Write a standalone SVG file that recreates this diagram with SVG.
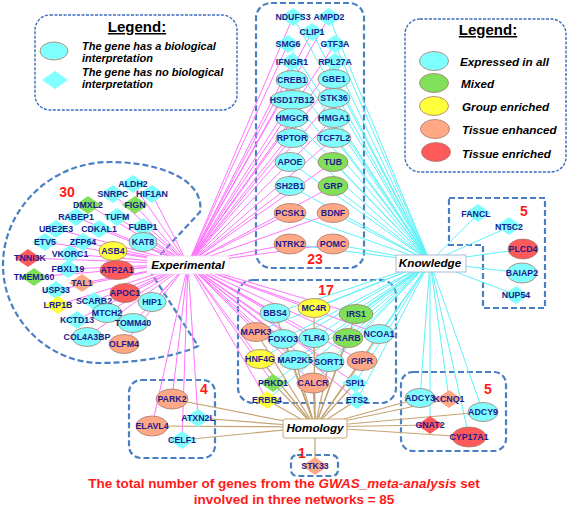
<svg xmlns="http://www.w3.org/2000/svg" width="568" height="509" viewBox="0 0 568 509">
<defs>
<style>
.box{fill:none;stroke:#4a7fc4;stroke-width:2.2;stroke-dasharray:6 3}
.leg{fill:#fff;stroke:#3a6cc0;stroke-width:1.4;stroke-dasharray:3 1.5}
.ce{fill:#80ffff}.gr{fill:#80e05a}.ye{fill:#ffff3c}.or{fill:#ffa886}.re{fill:#ff5a5a}
.el{stroke:#a5786a;stroke-width:0.8}
.gt{font-family:"Liberation Sans",Arial,sans-serif;font-weight:bold;font-size:8.8px;fill:#1c1c8c;text-anchor:middle}
.lt{font-family:"Liberation Sans",Arial,sans-serif;font-weight:bold;font-style:italic;font-size:11.7px;fill:#000}
.lt2{font-family:"Liberation Sans",Arial,sans-serif;font-weight:bold;font-style:italic;font-size:11px;fill:#000}
.ttl{font-family:"Liberation Sans",Arial,sans-serif;font-weight:bold;font-size:15px;fill:#000;text-anchor:middle;text-decoration:underline}
.ht{font-family:"Liberation Sans",Arial,sans-serif;font-weight:bold;font-style:italic;font-size:11.7px;fill:#000;text-anchor:middle}
.num{font-family:"Liberation Sans",Arial,sans-serif;font-weight:bold;font-size:14px;fill:#ff1a1a;text-anchor:middle}
.bt{font-family:"Liberation Sans",Arial,sans-serif;font-weight:bold;font-size:13.5px;fill:#ff1a1a;text-anchor:middle}
.ep line{stroke:#ff74ff;stroke-width:1}
.ek line{stroke:#5cf2f7;stroke-width:1}
.eh line{stroke:#c4a474;stroke-width:1.2}
</style>
<path id="dm" d="M-13,0L0,-9L13,0L0,9Z"/>
</defs>
<rect width="568" height="509" fill="#fff"/>

<g id="legend1">
<rect x="35" y="15" width="202" height="95" rx="15" class="leg"/>
<text x="137" y="32" class="ttl">Legend:</text>
<ellipse cx="54" cy="51" rx="14" ry="9" class="ce el"/>
<use href="#dm" x="55" y="80" class="ce"/>
<text x="82" y="49.5" class="lt2">The gene has a biological</text>
<text x="82" y="62.2" class="lt2">interpretation</text>
<text x="82" y="75.5" class="lt2">The gene has no biological</text>
<text x="82" y="88.2" class="lt2">interpretation</text>
</g>

<g id="legend2">
<rect x="405" y="19" width="161" height="153" rx="15" class="leg"/>
<text x="488" y="35" class="ttl">Legend:</text>
<ellipse cx="434" cy="61" rx="14.5" ry="9.5" class="ce el"/>
<ellipse cx="434" cy="83" rx="14.5" ry="9.5" class="gr el"/>
<ellipse cx="434" cy="106" rx="14.5" ry="9.5" class="ye el"/>
<ellipse cx="435" cy="129" rx="14.5" ry="9.5" class="or el"/>
<ellipse cx="436" cy="152" rx="14.5" ry="9.5" class="re el"/>
<text x="460" y="66" class="lt">Expressed in all</text>
<text x="461" y="88" class="lt">Mixed</text>
<text x="462" y="111" class="lt">Group enriched</text>
<text x="462" y="134" class="lt">Tissue enhanced</text>
<text x="462" y="158" class="lt">Tissue enriched</text>
</g>

<g id="groups">
<path class="box" d="M148,268 L200,212 C205,180 160,162 110,162 C50,162 3,210 3,265 C3,320 50,363 100,363 C140,363 180,355 198,346 Z"/>
<rect x="256" y="3" width="108" height="265" rx="15" class="box"/>
<rect x="238" y="280" width="158" height="123" rx="15" class="box"/>
<path class="box" d="M449,198 L545,198 L545,308 L483,308 L483,245 L449,245 Z"/>
<rect x="129" y="380" width="86" height="78" rx="12" class="box"/>
<rect x="401" y="372" width="105" height="79" rx="12" class="box"/>
<rect x="291" y="455" width="47" height="21" rx="6" class="box"/>
<text x="67" y="197" class="num">30</text>
<text x="315" y="264" class="num">23</text>
<text x="326" y="295" class="num">17</text>
<text x="524" y="216" class="num">5</text>
<text x="204" y="394" class="num">4</text>
<text x="488" y="394" class="num">5</text>
<text x="302" y="458" class="num">1</text>
</g>

<g id="connectors">
<g class="ep">
<line x1="188" y1="264" x2="133" y2="184"/><line x1="188" y1="264" x2="113" y2="194"/><line x1="188" y1="264" x2="152" y2="194"/>
<line x1="188" y1="264" x2="88" y2="205"/><line x1="188" y1="264" x2="135" y2="205"/><line x1="188" y1="264" x2="76" y2="217"/>
<line x1="188" y1="264" x2="117" y2="217"/><line x1="188" y1="264" x2="56" y2="229"/><line x1="188" y1="264" x2="99" y2="229"/>
<line x1="188" y1="264" x2="143" y2="227"/><line x1="188" y1="264" x2="45" y2="242"/><line x1="188" y1="264" x2="83" y2="242"/>
<line x1="188" y1="264" x2="143" y2="242"/><line x1="188" y1="264" x2="28" y2="258"/><line x1="188" y1="264" x2="70" y2="254"/>
<line x1="188" y1="264" x2="113" y2="251"/><line x1="188" y1="264" x2="68" y2="269"/><line x1="188" y1="264" x2="117" y2="270"/>
<line x1="188" y1="264" x2="34" y2="277"/><line x1="188" y1="264" x2="82" y2="283"/><line x1="188" y1="264" x2="56" y2="290"/>
<line x1="188" y1="264" x2="125" y2="293"/><line x1="188" y1="264" x2="58" y2="305"/><line x1="188" y1="264" x2="94" y2="301"/>
<line x1="188" y1="264" x2="152" y2="302"/><line x1="188" y1="264" x2="107" y2="313"/><line x1="188" y1="264" x2="77" y2="320"/>
<line x1="188" y1="264" x2="133" y2="323"/><line x1="188" y1="264" x2="87" y2="337"/><line x1="188" y1="264" x2="124" y2="344"/>
<line x1="188" y1="264" x2="293" y2="17"/><line x1="188" y1="264" x2="329" y2="17"/><line x1="188" y1="264" x2="312" y2="32"/>
<line x1="188" y1="264" x2="288" y2="44"/><line x1="188" y1="264" x2="335" y2="44"/><line x1="188" y1="264" x2="292" y2="62"/>
<line x1="188" y1="264" x2="335" y2="62"/><line x1="188" y1="264" x2="292" y2="80"/><line x1="188" y1="264" x2="334" y2="79"/>
<line x1="188" y1="264" x2="292" y2="100"/><line x1="188" y1="264" x2="334" y2="98"/><line x1="188" y1="264" x2="292" y2="118"/>
<line x1="188" y1="264" x2="334" y2="118"/><line x1="188" y1="264" x2="292" y2="138"/><line x1="188" y1="264" x2="334" y2="138"/>
<line x1="188" y1="264" x2="290" y2="162"/><line x1="188" y1="264" x2="333" y2="162"/><line x1="188" y1="264" x2="290" y2="186"/>
<line x1="188" y1="264" x2="333" y2="186"/><line x1="188" y1="264" x2="290" y2="213"/><line x1="188" y1="264" x2="333" y2="213"/>
<line x1="188" y1="264" x2="290" y2="244"/><line x1="188" y1="264" x2="333" y2="244"/>
<line x1="188" y1="264" x2="275" y2="313"/><line x1="188" y1="264" x2="314" y2="308"/><line x1="188" y1="264" x2="356" y2="314"/>
<line x1="188" y1="264" x2="256" y2="332"/><line x1="188" y1="264" x2="283" y2="339"/><line x1="188" y1="264" x2="314" y2="338"/>
<line x1="188" y1="264" x2="348" y2="338"/><line x1="188" y1="264" x2="379" y2="334"/><line x1="188" y1="264" x2="260" y2="359"/>
<line x1="188" y1="264" x2="295" y2="360"/><line x1="188" y1="264" x2="329" y2="362"/><line x1="188" y1="264" x2="362" y2="361"/>
<line x1="188" y1="264" x2="273" y2="383"/><line x1="188" y1="264" x2="313" y2="383"/><line x1="188" y1="264" x2="355" y2="383"/>
<line x1="188" y1="264" x2="267" y2="400"/><line x1="188" y1="264" x2="357" y2="400"/>
<line x1="188" y1="264" x2="172" y2="399"/><line x1="188" y1="264" x2="198" y2="418"/><line x1="188" y1="264" x2="152" y2="426"/>
<line x1="188" y1="264" x2="182" y2="440"/>
</g>
<g class="ek">
<line x1="430" y1="262" x2="293" y2="17"/><line x1="430" y1="262" x2="329" y2="17"/><line x1="430" y1="262" x2="312" y2="32"/>
<line x1="430" y1="262" x2="288" y2="44"/><line x1="430" y1="262" x2="335" y2="44"/><line x1="430" y1="262" x2="292" y2="62"/>
<line x1="430" y1="262" x2="335" y2="62"/><line x1="430" y1="262" x2="292" y2="80"/><line x1="430" y1="262" x2="334" y2="79"/>
<line x1="430" y1="262" x2="292" y2="100"/><line x1="430" y1="262" x2="334" y2="98"/><line x1="430" y1="262" x2="292" y2="118"/>
<line x1="430" y1="262" x2="334" y2="118"/><line x1="430" y1="262" x2="292" y2="138"/><line x1="430" y1="262" x2="334" y2="138"/>
<line x1="430" y1="262" x2="290" y2="162"/><line x1="430" y1="262" x2="333" y2="162"/><line x1="430" y1="262" x2="290" y2="186"/>
<line x1="430" y1="262" x2="333" y2="186"/><line x1="430" y1="262" x2="290" y2="213"/><line x1="430" y1="262" x2="333" y2="213"/>
<line x1="430" y1="262" x2="290" y2="244"/><line x1="430" y1="262" x2="333" y2="244"/>
<line x1="430" y1="262" x2="275" y2="313"/><line x1="430" y1="262" x2="314" y2="308"/><line x1="430" y1="262" x2="356" y2="314"/>
<line x1="430" y1="262" x2="256" y2="332"/><line x1="430" y1="262" x2="283" y2="339"/><line x1="430" y1="262" x2="314" y2="338"/>
<line x1="430" y1="262" x2="348" y2="338"/><line x1="430" y1="262" x2="379" y2="334"/><line x1="430" y1="262" x2="260" y2="359"/>
<line x1="430" y1="262" x2="295" y2="360"/><line x1="430" y1="262" x2="329" y2="362"/><line x1="430" y1="262" x2="362" y2="361"/>
<line x1="430" y1="262" x2="273" y2="383"/><line x1="430" y1="262" x2="313" y2="383"/><line x1="430" y1="262" x2="355" y2="383"/>
<line x1="430" y1="262" x2="267" y2="400"/><line x1="430" y1="262" x2="357" y2="400"/>
<line x1="430" y1="262" x2="478" y2="214"/><line x1="430" y1="262" x2="509" y2="227"/><line x1="430" y1="262" x2="523" y2="249"/>
<line x1="430" y1="262" x2="522" y2="273"/><line x1="430" y1="262" x2="516" y2="295"/>
<line x1="430" y1="262" x2="420" y2="398"/><line x1="430" y1="262" x2="449" y2="399"/><line x1="430" y1="262" x2="483" y2="412"/>
<line x1="430" y1="262" x2="430" y2="425"/><line x1="430" y1="262" x2="469" y2="437"/>
</g>
<g class="eh">
<line x1="315" y1="427" x2="275" y2="313"/><line x1="315" y1="427" x2="314" y2="308"/><line x1="315" y1="427" x2="356" y2="314"/>
<line x1="315" y1="427" x2="256" y2="332"/><line x1="315" y1="427" x2="283" y2="339"/><line x1="315" y1="427" x2="314" y2="338"/>
<line x1="315" y1="427" x2="348" y2="338"/><line x1="315" y1="427" x2="379" y2="334"/><line x1="315" y1="427" x2="260" y2="359"/>
<line x1="315" y1="427" x2="295" y2="360"/><line x1="315" y1="427" x2="329" y2="362"/><line x1="315" y1="427" x2="362" y2="361"/>
<line x1="315" y1="427" x2="273" y2="383"/><line x1="315" y1="427" x2="313" y2="383"/><line x1="315" y1="427" x2="355" y2="383"/>
<line x1="315" y1="427" x2="267" y2="400"/><line x1="315" y1="427" x2="357" y2="400"/>
<line x1="315" y1="427" x2="172" y2="399"/><line x1="315" y1="427" x2="198" y2="418"/><line x1="315" y1="427" x2="152" y2="426"/>
<line x1="315" y1="427" x2="182" y2="440"/>
<line x1="315" y1="427" x2="420" y2="398"/><line x1="315" y1="427" x2="449" y2="399"/><line x1="315" y1="427" x2="483" y2="412"/>
<line x1="315" y1="427" x2="430" y2="425"/><line x1="315" y1="427" x2="469" y2="437"/>
<line x1="315" y1="427" x2="315" y2="466"/>
</g>
</g>

<g id="nodes">
<g id="n-NDUFS3"><use href="#dm" x="293" y="17" class="ce"/><text x="293" y="20" class="gt">NDUFS3</text></g>
<g id="n-AMPD2"><use href="#dm" x="329" y="17" class="ce"/><text x="329" y="20" class="gt">AMPD2</text></g>
<g id="n-CLIP1"><use href="#dm" x="312" y="32" class="ce"/><text x="312" y="35" class="gt">CLIP1</text></g>
<g id="n-SMG6"><use href="#dm" x="288" y="44" class="ce"/><text x="288" y="47" class="gt">SMG6</text></g>
<g id="n-GTF3A"><use href="#dm" x="335" y="44" class="ce"/><text x="335" y="47" class="gt">GTF3A</text></g>
<g id="n-IFNGR1"><use href="#dm" x="292" y="62" class="ce"/><text x="292" y="65" class="gt">IFNGR1</text></g>
<g id="n-RPL27A"><use href="#dm" x="335" y="62" class="ce"/><text x="335" y="65" class="gt">RPL27A</text></g>
<g id="n-CREB1"><ellipse cx="292" cy="80" rx="16" ry="9.5" class="ce el"/><text x="292" y="83" class="gt">CREB1</text></g>
<g id="n-GBE1"><ellipse cx="334" cy="79" rx="16" ry="9.5" class="ce el"/><text x="334" y="82" class="gt">GBE1</text></g>
<g id="n-HSD17B12"><ellipse cx="292" cy="100" rx="22" ry="9.5" class="ce el"/><text x="292" y="103" class="gt">HSD17B12</text></g>
<g id="n-STK36"><ellipse cx="334" cy="98" rx="16" ry="9.5" class="ce el"/><text x="334" y="101" class="gt">STK36</text></g>
<g id="n-HMGCR"><ellipse cx="292" cy="118" rx="16" ry="9.5" class="ce el"/><text x="292" y="121" class="gt">HMGCR</text></g>
<g id="n-HMGA1"><ellipse cx="334" cy="118" rx="16" ry="9.5" class="ce el"/><text x="334" y="121" class="gt">HMGA1</text></g>
<g id="n-RPTOR"><ellipse cx="292" cy="138" rx="16" ry="9.5" class="ce el"/><text x="292" y="141" class="gt">RPTOR</text></g>
<g id="n-TCF7L2"><ellipse cx="334" cy="138" rx="17" ry="9.5" class="ce el"/><text x="334" y="141" class="gt">TCF7L2</text></g>
<g id="n-APOE"><ellipse cx="290" cy="162" rx="15" ry="9.5" class="ce el"/><text x="290" y="165" class="gt">APOE</text></g>
<g id="n-TUB"><ellipse cx="333" cy="162" rx="15" ry="9.5" class="gr el"/><text x="333" y="165" class="gt">TUB</text></g>
<g id="n-SH2B1"><ellipse cx="290" cy="186" rx="15" ry="9.5" class="ce el"/><text x="290" y="189" class="gt">SH2B1</text></g>
<g id="n-GRP"><ellipse cx="333" cy="186" rx="15" ry="9.5" class="gr el"/><text x="333" y="189" class="gt">GRP</text></g>
<g id="n-PCSK1"><ellipse cx="290" cy="213" rx="16" ry="9.5" class="or el"/><text x="290" y="216" class="gt">PCSK1</text></g>
<g id="n-BDNF"><ellipse cx="333" cy="213" rx="16" ry="9.5" class="or el"/><text x="333" y="216" class="gt">BDNF</text></g>
<g id="n-NTRK2"><ellipse cx="290" cy="244" rx="16" ry="10" class="or el"/><text x="290" y="247" class="gt">NTRK2</text></g>
<g id="n-POMC"><ellipse cx="333" cy="244" rx="16" ry="10" class="or el"/><text x="333" y="247" class="gt">POMC</text></g>

<g id="n-ALDH2"><use href="#dm" x="133" y="184" class="ce"/><text x="133" y="187" class="gt">ALDH2</text></g>
<g id="n-SNRPC"><use href="#dm" x="113" y="194" class="ce"/><text x="113" y="197" class="gt">SNRPC</text></g>
<g id="n-HIF1AN"><use href="#dm" x="152" y="194" class="ce"/><text x="152" y="197" class="gt">HIF1AN</text></g>
<g id="n-DMXL2"><use href="#dm" x="88" y="205" class="gr"/><text x="88" y="208" class="gt">DMXL2</text></g>
<g id="n-FIGN"><use href="#dm" x="135" y="205" class="gr"/><text x="135" y="208" class="gt">FIGN</text></g>
<g id="n-RABEP1"><use href="#dm" x="76" y="217" class="ce"/><text x="76" y="220" class="gt">RABEP1</text></g>
<g id="n-TUFM"><use href="#dm" x="117" y="217" class="ce"/><text x="117" y="220" class="gt">TUFM</text></g>
<g id="n-UBE2E3"><use href="#dm" x="56" y="229" class="ce"/><text x="56" y="232" class="gt">UBE2E3</text></g>
<g id="n-CDKAL1"><use href="#dm" x="99" y="229" class="ce"/><text x="99" y="232" class="gt">CDKAL1</text></g>
<g id="n-FUBP1"><use href="#dm" x="143" y="227" class="ce"/><text x="143" y="230" class="gt">FUBP1</text></g>
<g id="n-ETV5"><use href="#dm" x="45" y="242" class="ce"/><text x="45" y="245" class="gt">ETV5</text></g>
<g id="n-ZFP64"><use href="#dm" x="83" y="242" class="ce"/><text x="83" y="245" class="gt">ZFP64</text></g>
<g id="n-KAT8"><ellipse cx="143" cy="242" rx="14" ry="9.5" class="ce el"/><text x="143" y="245" class="gt">KAT8</text></g>
<g id="n-TNNI3K"><use href="#dm" x="28" y="258" class="re"/><text x="30" y="261" class="gt">TNNI3K</text></g>
<g id="n-VKORC1"><use href="#dm" x="70" y="254" class="ce"/><text x="70" y="257" class="gt">VKORC1</text></g>
<g id="n-ASB4"><ellipse cx="113" cy="251" rx="14" ry="9.5" class="ye el"/><text x="113" y="254" class="gt">ASB4</text></g>
<g id="n-FBXL19"><use href="#dm" x="68" y="269" class="ce"/><text x="68" y="272" class="gt">FBXL19</text></g>
<g id="n-ATP2A1"><ellipse cx="117" cy="270" rx="17" ry="9.5" class="re el"/><text x="117" y="273" class="gt">ATP2A1</text></g>
<g id="n-TMEM160"><use href="#dm" x="34" y="277" class="gr"/><text x="34" y="280" class="gt">TMEM160</text></g>
<g id="n-TAL1"><use href="#dm" x="82" y="283" class="or"/><text x="82" y="286" class="gt">TAL1</text></g>
<g id="n-USP33"><use href="#dm" x="56" y="290" class="ce"/><text x="56" y="293" class="gt">USP33</text></g>
<g id="n-APOC1"><ellipse cx="125" cy="293" rx="15" ry="9.5" class="re el"/><text x="125" y="296" class="gt">APOC1</text></g>
<g id="n-LRP1B"><use href="#dm" x="58" y="305" class="ye"/><text x="58" y="308" class="gt">LRP1B</text></g>
<g id="n-SCARB2"><use href="#dm" x="94" y="301" class="ce"/><text x="94" y="304" class="gt">SCARB2</text></g>
<g id="n-HIP1"><ellipse cx="152" cy="302" rx="14" ry="9.5" class="ce el"/><text x="152" y="305" class="gt">HIP1</text></g>
<g id="n-MTCH2"><ellipse cx="107" cy="313" rx="15" ry="9.5" class="ce el"/><text x="107" y="316" class="gt">MTCH2</text></g>
<g id="n-KCTD13"><use href="#dm" x="77" y="320" class="ce"/><text x="77" y="323" class="gt">KCTD13</text></g>
<g id="n-TOMM40"><ellipse cx="133" cy="323" rx="15" ry="9.5" class="ce el"/><text x="133" y="326" class="gt">TOMM40</text></g>
<g id="n-COL4A3BP"><ellipse cx="87" cy="337" rx="15" ry="9.5" class="ce el"/><text x="87" y="340" class="gt">COL4A3BP</text></g>
<g id="n-OLFM4"><ellipse cx="124" cy="344" rx="15" ry="9.5" class="or el"/><text x="124" y="347" class="gt">OLFM4</text></g>

<g id="n-BBS4"><ellipse cx="275" cy="313" rx="15" ry="9.5" class="ce el"/><text x="275" y="316" class="gt">BBS4</text></g>
<g id="n-MC4R"><ellipse cx="314" cy="308" rx="16" ry="9.5" class="ye el"/><text x="314" y="311" class="gt">MC4R</text></g>
<g id="n-IRS1"><ellipse cx="356" cy="314" rx="17" ry="9.5" class="gr el"/><text x="356" y="317" class="gt">IRS1</text></g>
<g id="n-MAPK3"><ellipse cx="256" cy="332" rx="15" ry="9.5" class="or el"/><text x="256" y="335" class="gt">MAPK3</text></g>
<g id="n-FOXO3"><ellipse cx="283" cy="339" rx="15" ry="9.5" class="ce el"/><text x="283" y="342" class="gt">FOXO3</text></g>
<g id="n-TLR4"><ellipse cx="314" cy="338" rx="15" ry="9.5" class="ce el"/><text x="314" y="341" class="gt">TLR4</text></g>
<g id="n-RARB"><ellipse cx="348" cy="338" rx="15" ry="9.5" class="gr el"/><text x="348" y="341" class="gt">RARB</text></g>
<g id="n-NCOA1"><ellipse cx="379" cy="334" rx="15" ry="9.5" class="ce el"/><text x="379" y="337" class="gt">NCOA1</text></g>
<g id="n-HNF4G"><ellipse cx="260" cy="359" rx="15" ry="9.5" class="ye el"/><text x="260" y="362" class="gt">HNF4G</text></g>
<g id="n-MAP2K5"><ellipse cx="295" cy="360" rx="16" ry="9.5" class="ce el"/><text x="295" y="363" class="gt">MAP2K5</text></g>
<g id="n-SORT1"><ellipse cx="329" cy="362" rx="15" ry="9.5" class="ce el"/><text x="329" y="365" class="gt">SORT1</text></g>
<g id="n-GIPR"><ellipse cx="362" cy="361" rx="15" ry="9.5" class="or el"/><text x="362" y="364" class="gt">GIPR</text></g>
<g id="n-PRKD1"><use href="#dm" x="273" y="383" class="gr"/><text x="273" y="386" class="gt">PRKD1</text></g>
<g id="n-CALCR"><ellipse cx="313" cy="383" rx="16" ry="10" class="or el"/><text x="313" y="386" class="gt">CALCR</text></g>
<g id="n-SPI1"><use href="#dm" x="355" y="383" class="ce"/><text x="355" y="386" class="gt">SPI1</text></g>
<g id="n-ERBB4"><use href="#dm" x="267" y="400" class="ye"/><text x="267" y="403" class="gt">ERBB4</text></g>
<g id="n-ETS2"><use href="#dm" x="357" y="400" class="ce"/><text x="357" y="403" class="gt">ETS2</text></g>

<g id="n-FANCL"><use href="#dm" x="478" y="213" class="ce"/><text x="476" y="217" class="gt">FANCL</text></g>
<g id="n-NT5C2"><use href="#dm" x="509" y="226" class="ce"/><text x="509" y="230" class="gt">NT5C2</text></g>
<g id="n-PLCD4"><ellipse cx="523" cy="249" rx="15" ry="10" class="re el"/><text x="523" y="252" class="gt">PLCD4</text></g>
<g id="n-BAIAP2"><ellipse cx="522" cy="273" rx="15" ry="10" class="ce el"/><text x="522" y="276" class="gt">BAIAP2</text></g>
<g id="n-NUP54"><use href="#dm" x="516" y="295" class="ce"/><text x="516" y="298" class="gt">NUP54</text></g>

<g id="n-PARK2"><ellipse cx="172" cy="399" rx="16" ry="10" class="or el"/><text x="172" y="402" class="gt">PARK2</text></g>
<g id="n-ATXN2L"><use href="#dm" x="198" y="418" class="ce"/><text x="198" y="421" class="gt">ATXN2L</text></g>
<g id="n-ELAVL4"><ellipse cx="152" cy="426" rx="16" ry="10" class="or el"/><text x="152" y="429" class="gt">ELAVL4</text></g>
<g id="n-CELF1"><use href="#dm" x="182" y="440" class="ce"/><text x="182" y="443" class="gt">CELF1</text></g>

<g id="n-ADCY3"><ellipse cx="420" cy="398" rx="15" ry="9.5" class="ce el"/><text x="420" y="401" class="gt">ADCY3</text></g>
<g id="n-KCNQ1"><use href="#dm" x="449" y="399" class="or"/><text x="449" y="402" class="gt">KCNQ1</text></g>
<g id="n-ADCY9"><ellipse cx="483" cy="412" rx="15" ry="9.5" class="ce el"/><text x="483" y="415" class="gt">ADCY9</text></g>
<g id="n-GNAT2"><use href="#dm" x="430" y="425" class="re"/><text x="430" y="428" class="gt">GNAT2</text></g>
<g id="n-CYP17A1"><ellipse cx="469" cy="437" rx="17" ry="10" class="re el"/><text x="469" y="440" class="gt">CYP17A1</text></g>

<g id="n-STK33"><use href="#dm" x="315" y="466" class="or"/><text x="315" y="469" class="gt">STK33</text></g>
</g>

<g id="hubs">
<g id="h-Experimental"><rect x="147" y="256" width="82" height="18" fill="#fff" stroke="#f2d6f2" stroke-width="0.8"/><text x="188" y="269" class="ht">Experimental</text></g>
<g id="h-Knowledge"><rect x="396" y="255" width="70" height="17" fill="#fff" stroke="#a7bcd9" stroke-width="1"/><text x="430" y="267" class="ht">Knowledge</text></g>
<g id="h-Homology"><rect x="283" y="419" width="64" height="19" rx="2" fill="#fff" stroke="#c8a878" stroke-width="1"/><text x="315" y="432" class="ht">Homology</text></g>
</g>

<g id="caption">
<text x="284" y="488" class="bt">The total number of genes from the <tspan font-style="italic">GWAS_meta-analysis</tspan> set</text>
<text x="294" y="504" class="bt">involved in three networks = 85</text>
</g>
</svg>
